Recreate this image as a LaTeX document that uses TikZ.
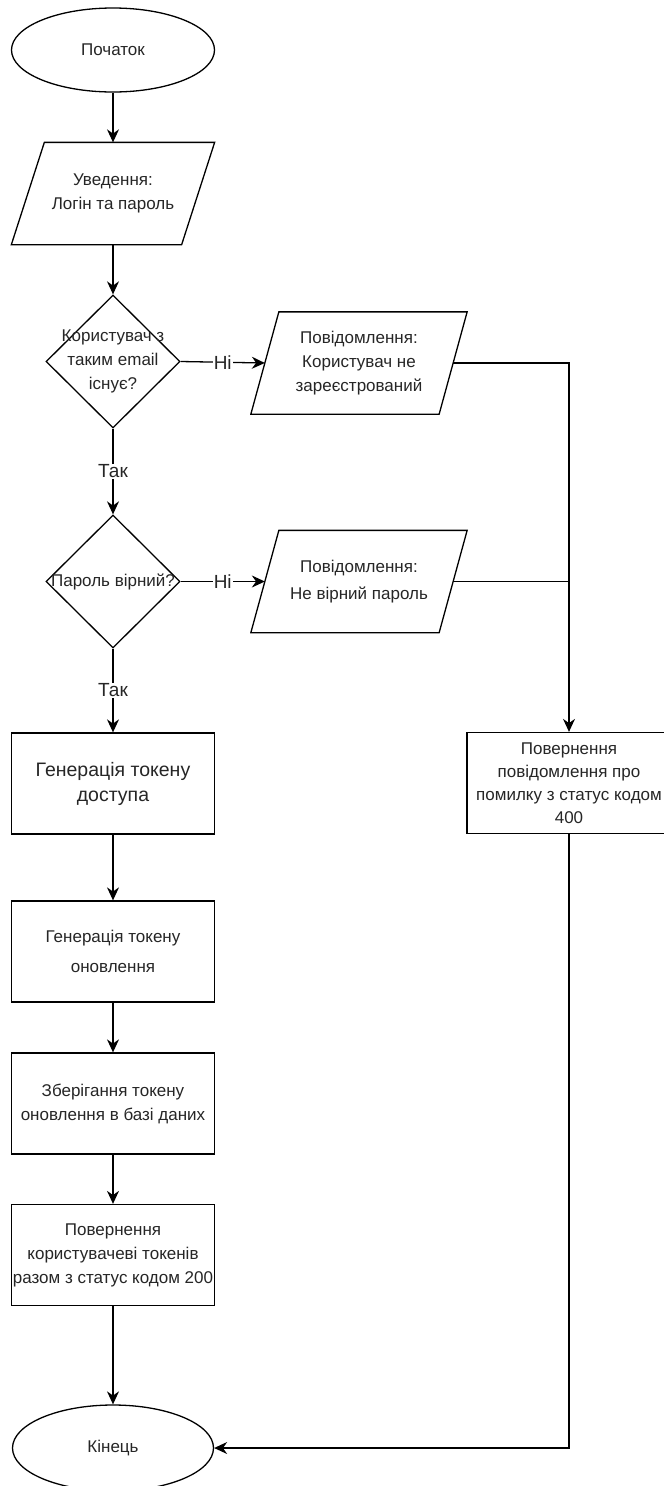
\documentclass[tikz,border=0pt]{standalone}
\usepackage{fontspec}
\setmainfont{Liberation Sans}
\usetikzlibrary{shapes.geometric,arrows.meta,calc}
\newcommand\paraoutline[2]{%
  \draw[line width=1.3pt] ($(#1.north west)+(#2,0)$) -- ($(#1.north east)+(#2,0)$) -- ($(#1.south east)+(-#2,0)$) -- ($(#1.south west)+(-#2,0)$) -- cycle;}
\begin{document}
\begin{tikzpicture}[x=1pt,y=-1pt,
  base/.style={draw=black, line width=1.3pt, inner sep=0pt, align=center, text=black!85, font=\fontsize{17}{24}\selectfont},
  term/.style={base, ellipse, minimum width=203pt, minimum height=84pt},
  procbox/.style={base, rectangle, minimum width=203pt, minimum height=101pt},
  iobox/.style={base, draw=none, rectangle, minimum height=101pt},
  decis/.style={base, diamond, minimum width=134pt, minimum height=133pt},
  dtext/.style={base, draw=none},
  lbl/.style={fill=white, inner sep=1pt, text=black!85, font=\fontsize{19}{22}\selectfont},
  arr/.style={-{Stealth[length=13pt,width=12pt]}, line width=1.3pt},
  plainline/.style={line width=1.3pt}
]
\useasboundingbox[fill=white] (0,0) rectangle (664,1486);

\node[term] (start) at (113,50) {Початок};
\node[iobox, minimum width=169pt] (in1) at (113,193.5) {Уведення:\\Логін та пароль};
\paraoutline{in1}{16.5}

\node[decis] (d1) at (113,361.5) {};
\node[dtext] (d1t) at (d1) {Користувач з\\таким email\\існує?};

\node[iobox, minimum width=187pt] (msg1) at (359,363) {Повідомлення:\\Користувач не\\зареєстрований};
\paraoutline{msg1}{14}

\node[decis] (d2) at (113,581.5) {};
\node[dtext] (d2t) at (d2) {Пароль вірний?};

\node[iobox, minimum width=187pt] (msg2) at (359,581.5) {Повідомлення:\\[3pt]Не вірний пароль};
\paraoutline{msg2}{14}

\node[procbox, font=\fontsize{19.5}{25}\selectfont] (b1) at (113,783.5) {Генерація токену\\доступа};
\node[procbox] (b2) at (113,951.5) {Генерація токену\\[6pt]оновлення};
\node[procbox] (b3) at (113,1103.5) {Зберігання токену\\оновлення в базі даних};
\node[procbox] (b4) at (113,1255) {Повернення\\користувачеві токенів\\разом з статус кодом 200};
\node[term, minimum width=201pt, minimum height=86pt] (fin) at (113,1448) {Кінець};

\node[procbox, minimum width=204pt, font=\fontsize{17}{23}\selectfont] (err) at (569,783) {Повернення\\повідомлення про\\помилку з статус кодом\\400};

\draw[arr] (start) -- (in1);
\draw[arr] (in1) -- (d1);
\draw[arr] (d1.east) -- node[lbl] {Ні} (msg1.west);
\draw[arr] (d1.south) -- node[lbl] {Так} (d2.north);
\draw[arr] (d2.east) -- node[lbl] {Ні} (msg2.west);
\draw[arr] (d2.south) -- node[lbl] {Так} (b1.north);
\draw[arr] (b1) -- (b2);
\draw[arr] (b2) -- (b3);
\draw[arr] (b3) -- (b4);
\draw[arr] (b4) -- (fin);
\draw[arr] (msg1.east) -| (err.north);
\draw[plainline] (msg2.east) -- (msg2.east -| err.north);
\draw[arr] (err.south) |- (fin.east);
\end{tikzpicture}
\end{document}
